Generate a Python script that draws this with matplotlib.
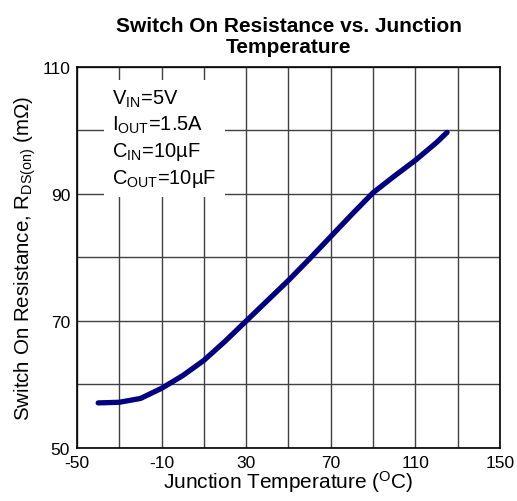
import matplotlib
matplotlib.use("Agg")
import matplotlib.pyplot as plt
import numpy as np

plt.rcParams['font.family'] = ['Liberation Sans', 'DejaVu Sans']
plt.rcParams['mathtext.default'] = 'regular'
plt.rcParams['axes.unicode_minus'] = False

temp = [-40, -30, -20, -10, 0, 10, 20, 30, 40, 50, 60, 70, 80, 90, 100, 110, 120, 125]
rds_on = [57.1, 57.2, 57.8, 59.4, 61.4, 63.8, 66.8, 70.0, 73.2, 76.4, 79.8, 83.3, 86.8, 90.2, 92.8, 95.3, 98.1, 99.7]

x_ticks = [-50, -10, 30, 70, 110, 150]
y_ticks = [50, 70, 90, 110]
conditions = ["$V_{IN}$=5V", "$I_{OUT}$=1.5A", "$C_{IN}$=10µF", "$C_{OUT}$=10µF"]

fig = plt.figure(figsize=(5.17, 5.02), dpi=100)
ax = fig.add_axes([0.149, 0.1056, 0.818, 0.759])

ax.plot(temp, rds_on, color="#000080", lw=3.8, solid_capstyle="round", zorder=3)

ax.set_xlim(-50, 150)
ax.set_ylim(50, 110)
ax.set_xticks(x_ticks)
ax.set_yticks(y_ticks)
ax.set_xticks(np.arange(-50, 151, 20), minor=True)
ax.set_yticks(np.arange(50, 111, 10), minor=True)
ax.grid(which="both", color="#404040", lw=1.0)
ax.tick_params(which="both", length=0, labelsize=12.5)
ax.tick_params(axis="x", pad=5)
ax.tick_params(axis="y", pad=5)
for s in ax.spines.values():
    s.set_color("black")
    s.set_linewidth(1.2)
    s.set_zorder(4)

ax.set_xlabel("Junction Temperature ($^{O}$C)", fontsize=15, labelpad=-1)
ax.set_ylabel("Switch On Resistance, $R_{DS(on)}$ (mΩ)", fontsize=14.8, labelpad=3)
ax.set_title("Switch On Resistance vs. Junction\nTemperature", fontsize=15,
             fontweight="bold", linespacing=1.1, pad=11)

ax.text(0.083, 0.945, "\n".join(conditions), transform=ax.transAxes, fontsize=14.5,
        va="top", ha="left", linespacing=1.3, zorder=5,
        bbox=dict(facecolor="white", edgecolor="none", pad=6))

fig.savefig("out.png", dpi=100)
